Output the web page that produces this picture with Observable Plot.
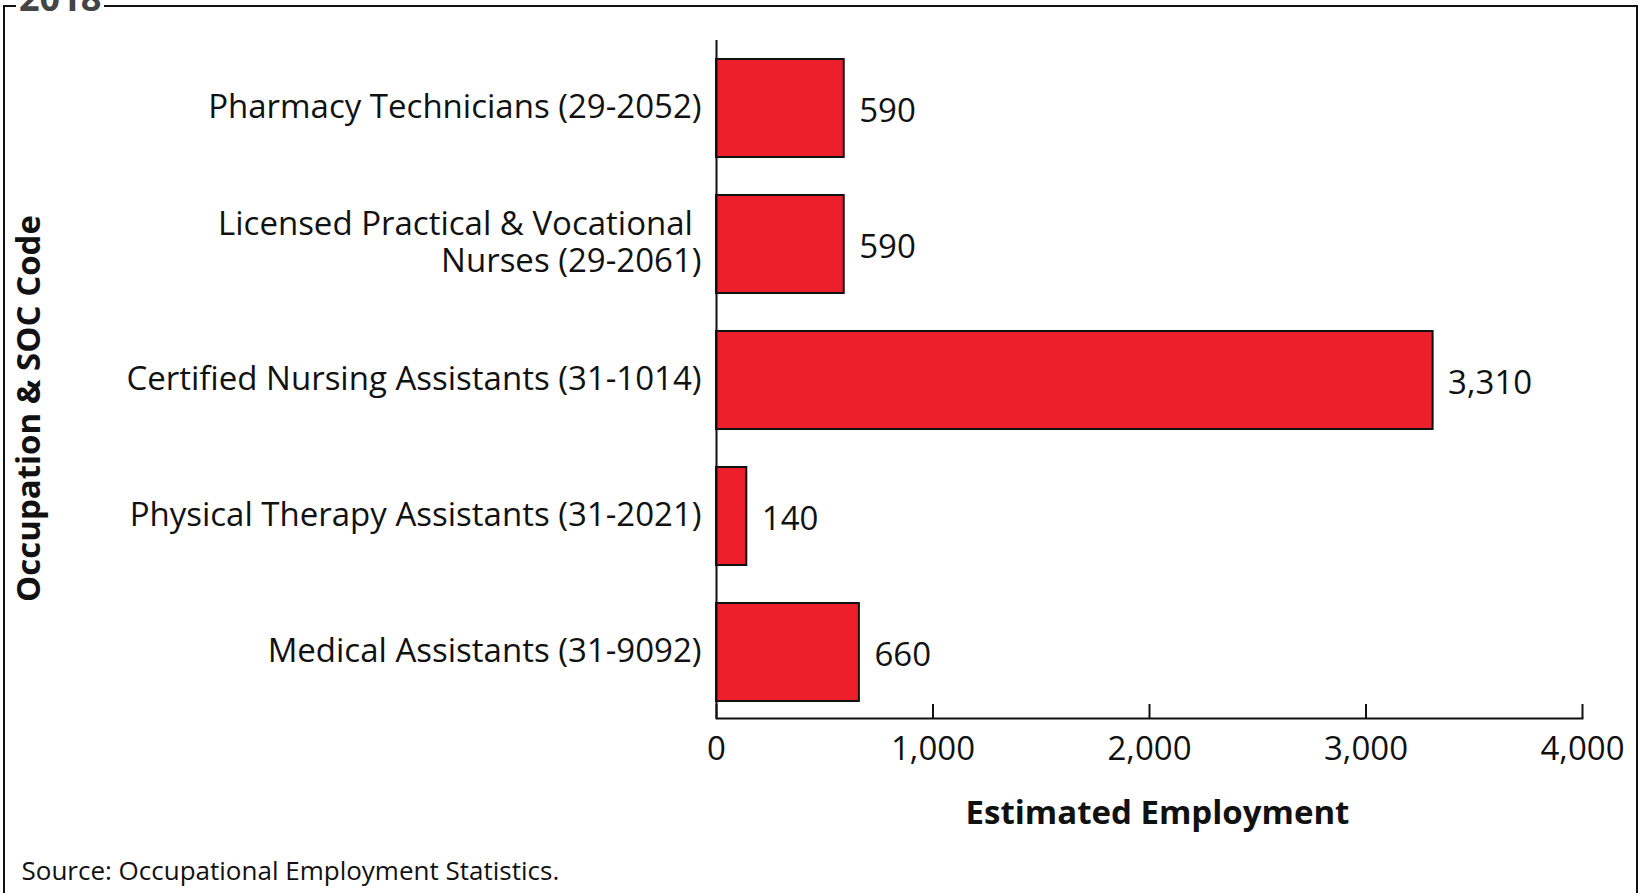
<!DOCTYPE html>
<html>
<head>
<meta charset="utf-8">
<script src="https://cdn.jsdelivr.net/npm/d3@7"></script>
<script src="https://cdn.jsdelivr.net/npm/@observablehq/plot@0.6"></script>
<style>
  html, body { margin: 0; padding: 0; background: #fff; overflow: hidden; }
  #wrap { position: relative; width: 1642px; height: 893px; overflow: hidden; }
  #box { position: absolute; left: 3px; top: 5px; width: 1635px; height: 1000px; border: 2.5px solid #111; box-sizing: border-box; }
  #title { position: absolute; left: 16px; top: -17px; padding: 0 3px; background: #fff; font: bold 36px "Open Sans", sans-serif; color: #444; line-height: 30px; }
  #chart { position: absolute; left: 0; top: 0; }
</style>
</head>
<body>
<div id="wrap">
  <div id="box"></div>
  <div id="title">2018</div>
  <div id="chart"></div>
</div>
<script>
const occupations = [
  "Pharmacy Technicians (29-2052)",
  "Licensed Practical & Vocational Nurses (29-2061)",
  "Certified Nursing Assistants (31-1014)",
  "Physical Therapy Assistants (31-2021)",
  "Medical Assistants (31-9092)"
];
const tickLabels = [
  "Pharmacy Technicians (29-2052)",
  "Licensed Practical & Vocational\u00a0\nNurses (29-2061)",
  "Certified Nursing Assistants (31-1014)",
  "Physical Therapy Assistants (31-2021)",
  "Medical Assistants (31-9092)"
];
const employment = [590, 590, 3310, 140, 660];
const xTicks = [0, 1000, 2000, 3000, 4000];
const xLabel = "Estimated Employment";
const yLabel = "Occupation & SOC Code";
const source = "Source: Occupational Employment Statistics.";

const data = occupations.map((o, i) => ({occupation: o, value: employment[i], label: tickLabels[i]}));
const labelOf = new Map(data.map(d => [d.occupation, d.label]));
const fmt = d3.format(",");
const FONT = "Open Sans, sans-serif";
const FS = 33;

const chart = Plot.plot({
  width: 1642,
  height: 893,
  marginLeft: 716,
  marginRight: 60,
  marginTop: 40,
  marginBottom: 175,
  style: {fontFamily: FONT, fontSize: FS + "px", color: "#111", background: "transparent", overflow: "visible"},
  x: {domain: [0, 4000]},
  y: {domain: occupations, range: [39.5, 720.7], paddingInner: 0.28, paddingOuter: 0.14},
  marks: [
    Plot.barX(data, {x: "value", y: "occupation", fill: "#ED1F2A", stroke: "#111", strokeWidth: 2}),
    Plot.text(data, {x: "value", y: "occupation", text: d => fmt(d.value), textAnchor: "start", dx: 15, dy: 3, fontSize: FS, fill: "#111"}),
    Plot.ruleX([0], {stroke: "#111", strokeWidth: 2}),
    Plot.frame({anchor: "bottom", stroke: "#111", strokeWidth: 2}),
    Plot.ruleX(xTicks, {x: d => d, insetTop: 678 - 14, stroke: "#111", strokeWidth: 2}),
    Plot.axisX({ticks: xTicks, tickSize: 0, tickPadding: 18, tickFormat: fmt, fontSize: FS, label: null}),
    Plot.axisY({tickSize: 0, tickPadding: 15, dy: -3, tickFormat: d => labelOf.get(d), fontSize: FS, lineHeight: 1.14, label: null}),
    Plot.text([xLabel], {frameAnchor: "bottom", text: d => d, dy: 105, dx: 8, fontSize: 33, fontWeight: "bold"}),
    Plot.text([yLabel], {frameAnchor: "left", text: d => d, rotate: -90, textAnchor: "middle", dx: -687, dy: 29, fontSize: 33, fontWeight: "bold"}),
    Plot.text([source], {frameAnchor: "bottom-left", text: d => d, textAnchor: "start", dx: -695, dy: 161, fontSize: 26})
  ]
});
document.getElementById("chart").appendChild(chart);
</script>
</body>
</html>
